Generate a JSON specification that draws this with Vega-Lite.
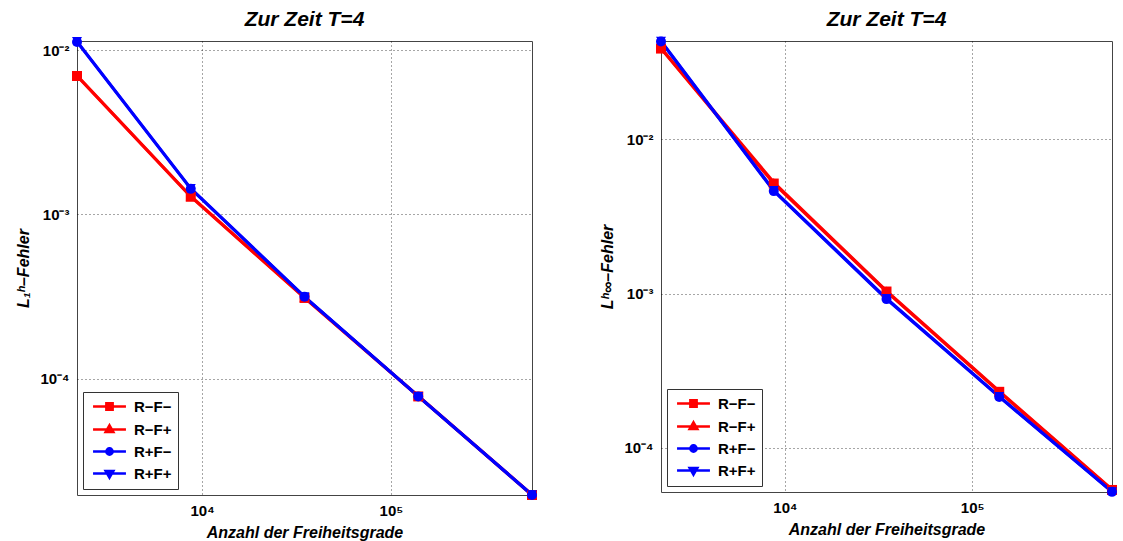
{
  "$schema": "https://vega.github.io/schema/vega-lite/v6.json",
  "padding": {"left": 15, "top": 8, "right": 5, "bottom": 5},
  "bounds": "flush",
  "spacing": 129,
  "datasets": {
    "l1": [
      {"n": 2180, "err": 0.00695, "series": "R−F−"},
      {"n": 8720, "err": 0.00128, "series": "R−F−"},
      {"n": 34880, "err": 0.00031, "series": "R−F−"},
      {"n": 139520, "err": 0.000078, "series": "R−F−"},
      {"n": 558080, "err": 0.0000196, "series": "R−F−"},
      {"n": 2180, "err": 0.0070, "series": "R−F+"},
      {"n": 8720, "err": 0.00129, "series": "R−F+"},
      {"n": 34880, "err": 0.000312, "series": "R−F+"},
      {"n": 139520, "err": 0.0000785, "series": "R−F+"},
      {"n": 558080, "err": 0.0000197, "series": "R−F+"},
      {"n": 2180, "err": 0.0112, "series": "R+F−"},
      {"n": 8720, "err": 0.00143, "series": "R+F−"},
      {"n": 34880, "err": 0.000315, "series": "R+F−"},
      {"n": 139520, "err": 0.000078, "series": "R+F−"},
      {"n": 558080, "err": 0.0000196, "series": "R+F−"},
      {"n": 2180, "err": 0.0113, "series": "R+F+"},
      {"n": 8720, "err": 0.00144, "series": "R+F+"},
      {"n": 34880, "err": 0.000316, "series": "R+F+"},
      {"n": 139520, "err": 0.0000782, "series": "R+F+"},
      {"n": 558080, "err": 0.0000197, "series": "R+F+"}
    ],
    "linf": [
      {"n": 2180, "err": 0.0385, "series": "R−F−"},
      {"n": 8720, "err": 0.00515, "series": "R−F−"},
      {"n": 34880, "err": 0.00103, "series": "R−F−"},
      {"n": 139520, "err": 0.000231, "series": "R−F−"},
      {"n": 558080, "err": 0.0000535, "series": "R−F−"},
      {"n": 2180, "err": 0.0388, "series": "R−F+"},
      {"n": 8720, "err": 0.00525, "series": "R−F+"},
      {"n": 34880, "err": 0.00104, "series": "R−F+"},
      {"n": 139520, "err": 0.000233, "series": "R−F+"},
      {"n": 558080, "err": 0.000054, "series": "R−F+"},
      {"n": 2180, "err": 0.0428, "series": "R+F−"},
      {"n": 8720, "err": 0.0046, "series": "R+F−"},
      {"n": 34880, "err": 0.00092, "series": "R+F−"},
      {"n": 139520, "err": 0.000214, "series": "R+F−"},
      {"n": 558080, "err": 0.000052, "series": "R+F−"},
      {"n": 2180, "err": 0.0431, "series": "R+F+"},
      {"n": 8720, "err": 0.00465, "series": "R+F+"},
      {"n": 34880, "err": 0.00093, "series": "R+F+"},
      {"n": 139520, "err": 0.000216, "series": "R+F+"},
      {"n": 558080, "err": 0.0000522, "series": "R+F+"}
    ]
  },
  "config": {
    "font": "Liberation Sans",
    "view": {"stroke": "#444", "strokeWidth": 1},
    "title": {"font": "Liberation Sans", "fontSize": 21, "fontWeight": "bold", "fontStyle": "italic", "color": "#000", "offset": 5},
    "axis": {
      "domain": false,
      "ticks": false,
      "grid": true,
      "gridColor": "#000",
      "gridOpacity": 0.7,
      "gridDash": [1, 3],
      "gridWidth": 1,
      "labelFont": "Liberation Sans",
      "labelFontSize": 15,
      "labelFontWeight": "bold",
      "labelColor": "#000",
      "titleFont": "Liberation Sans",
      "titleFontSize": 16,
      "titleFontWeight": "bold",
      "titleFontStyle": "italic",
      "titleColor": "#000"
    },
    "legend": {
      "orient": "bottom-left",
      "offset": 6,
      "padding": 6,
      "strokeColor": "#333",
      "fillColor": "white",
      "labelFont": "Liberation Sans",
      "labelFontSize": 15,
      "labelFontWeight": "bold",
      "labelColor": "#000",
      "symbolSize": 196,
      "symbolStrokeWidth": 2.5,
      "symbolOpacity": 1,
      "rowPadding": 5,
      "labelOffset": 16,
      "symbolOffset": 12
    }
  },
  "hconcat": [
    {
      "width": 455,
      "height": 454,
      "title": "Zur Zeit T=4",
      "data": {"name": "l1"},
      "encoding": {
        "x": {"field": "n", "type": "quantitative", "scale": {"type": "log", "domain": [2180, 558080], "nice": false},
              "axis": {"values": [10000, 100000], "labelExpr": "datum.value > 50000 ? '10⁵' : '10⁴'", "labelPadding": 8, "title": "Anzahl der Freiheitsgrade", "titlePadding": 6}},
        "y": {"field": "err", "type": "quantitative", "scale": {"type": "log", "domain": [0.0000196, 0.01135], "nice": false},
              "axis": {"values": [0.01, 0.001, 0.0001], "labelExpr": "datum.value > 0.005 ? '10⁻²' : datum.value > 0.0005 ? '10⁻³' : '10⁻⁴'", "labelPadding": 8, "title": "L₁ʰ–Fehler", "titlePadding": 8}}
      },
      "layer": [
        {
          "mark": {"type": "line", "strokeWidth": 3},
          "encoding": {
            "color": {"field": "series", "type": "nominal", "scale": {"domain": ["R−F−", "R−F+", "R+F−", "R+F+"], "range": ["#ff0000", "#ff0000", "#0000ff", "#0000ff"]}, "legend": null}
          }
        },
        {
          "mark": {"type": "point", "filled": true, "opacity": 1, "size": 100},
          "encoding": {
            "color": {"field": "series", "type": "nominal", "scale": {"domain": ["R−F−", "R−F+", "R+F−", "R+F+"], "range": ["#ff0000", "#ff0000", "#0000ff", "#0000ff"]}, "legend": null},
            "shape": {"field": "series", "type": "nominal", "scale": {"domain": ["R−F−", "R−F+", "R+F−", "R+F+"], "range": ["square", "triangle-up", "circle", "triangle-down"]}, "legend": null}
          }
        },
        {
          "mark": {"type": "point", "filled": true, "opacity": 0, "strokeWidth": 2.5},
          "encoding": {
            "color": {"field": "series", "type": "nominal", "scale": {"domain": ["R−F−", "R−F+", "R+F−", "R+F+"], "range": ["#ff0000", "#ff0000", "#0000ff", "#0000ff"]}, "legend": {"title": null}},
            "stroke": {"field": "series", "type": "nominal", "scale": {"domain": ["R−F−", "R−F+", "R+F−", "R+F+"], "range": ["#ff0000", "#ff0000", "#0000ff", "#0000ff"]}, "legend": {"title": null}},
            "shape": {"field": "series", "type": "nominal",
              "scale": {"domain": ["R−F−", "R−F+", "R+F−", "R+F+"], "range": ["M-2.35,0H2.35M-0.45,-0.45H0.45V0.45H-0.45Z", "M-2.35,0H2.35M0,-0.6L0.55,0.35H-0.55Z", "M-2.35,0H2.35M-0.45,0A0.45,0.45,0,1,1,0.45,0A0.45,0.45,0,1,1,-0.45,0Z", "M-2.35,0H2.35M0,0.6L0.55,-0.35H-0.55Z"]},
              "legend": {"title": null}}
          }
        }
      ],
      "resolve": {"scale": {"color": "independent", "shape": "independent", "stroke": "independent"}}
    },
    {
      "width": 451,
      "height": 451,
      "title": "Zur Zeit T=4",
      "data": {"name": "linf"},
      "encoding": {
        "x": {"field": "n", "type": "quantitative", "scale": {"type": "log", "domain": [2180, 558080], "nice": false},
              "axis": {"values": [10000, 100000], "labelExpr": "datum.value > 50000 ? '10⁵' : '10⁴'", "labelPadding": 8, "title": "Anzahl der Freiheitsgrade", "titlePadding": 6}},
        "y": {"field": "err", "type": "quantitative", "scale": {"type": "log", "domain": [0.0000519, 0.0431], "nice": false},
              "axis": {"values": [0.01, 0.001, 0.0001], "labelExpr": "datum.value > 0.005 ? '10⁻²' : datum.value > 0.0005 ? '10⁻³' : '10⁻⁴'", "labelPadding": 8, "title": "Lʰ∞–Fehler", "titlePadding": 8}}
      },
      "layer": [
        {
          "mark": {"type": "line", "strokeWidth": 3},
          "encoding": {
            "color": {"field": "series", "type": "nominal", "scale": {"domain": ["R−F−", "R−F+", "R+F−", "R+F+"], "range": ["#ff0000", "#ff0000", "#0000ff", "#0000ff"]}, "legend": null}
          }
        },
        {
          "mark": {"type": "point", "filled": true, "opacity": 1, "size": 100},
          "encoding": {
            "color": {"field": "series", "type": "nominal", "scale": {"domain": ["R−F−", "R−F+", "R+F−", "R+F+"], "range": ["#ff0000", "#ff0000", "#0000ff", "#0000ff"]}, "legend": null},
            "shape": {"field": "series", "type": "nominal", "scale": {"domain": ["R−F−", "R−F+", "R+F−", "R+F+"], "range": ["square", "triangle-up", "circle", "triangle-down"]}, "legend": null}
          }
        },
        {
          "mark": {"type": "point", "filled": true, "opacity": 0, "strokeWidth": 2.5},
          "encoding": {
            "color": {"field": "series", "type": "nominal", "scale": {"domain": ["R−F−", "R−F+", "R+F−", "R+F+"], "range": ["#ff0000", "#ff0000", "#0000ff", "#0000ff"]}, "legend": {"title": null}},
            "stroke": {"field": "series", "type": "nominal", "scale": {"domain": ["R−F−", "R−F+", "R+F−", "R+F+"], "range": ["#ff0000", "#ff0000", "#0000ff", "#0000ff"]}, "legend": {"title": null}},
            "shape": {"field": "series", "type": "nominal",
              "scale": {"domain": ["R−F−", "R−F+", "R+F−", "R+F+"], "range": ["M-2.35,0H2.35M-0.45,-0.45H0.45V0.45H-0.45Z", "M-2.35,0H2.35M0,-0.6L0.55,0.35H-0.55Z", "M-2.35,0H2.35M-0.45,0A0.45,0.45,0,1,1,0.45,0A0.45,0.45,0,1,1,-0.45,0Z", "M-2.35,0H2.35M0,0.6L0.55,-0.35H-0.55Z"]},
              "legend": {"title": null}}
          }
        }
      ],
      "resolve": {"scale": {"color": "independent", "shape": "independent", "stroke": "independent"}}
    }
  ]
}
